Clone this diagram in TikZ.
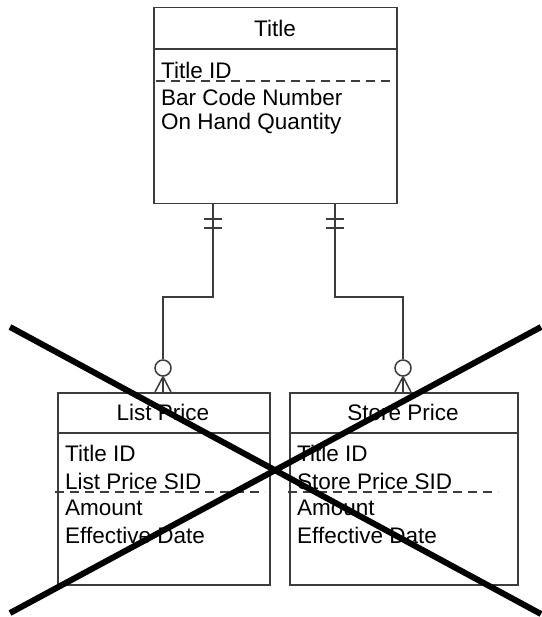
\documentclass[tikz,border=0pt]{standalone}
\usepackage{fontspec}
\setmainfont{Liberation Sans}
\begin{document}
\begin{tikzpicture}[x=1pt,y=-1pt,
  ent/.style={draw=boxgray, line width=1.5pt, anchor=north west, inner sep=0pt},
  sep/.style={draw=boxgray, line width=1.5pt},
  keysep/.style={draw=boxgray, line width=1.2pt, dash pattern=on 9pt off 6pt},
  attr/.style={anchor=west, inner sep=0pt, font=\fontsize{22.5}{26}\selectfont},
  hdr/.style={inner sep=0pt, font=\fontsize{22.5}{26}\selectfont},
  rel/.style={draw=boxgray, line width=1.5pt},
  cross/.style={draw=black, line width=6pt}]
\definecolor{boxgray}{HTML}{3C3C3C}
\useasboundingbox (0,0) rectangle (541,617);
% Title entity
\node[ent, minimum width=243, minimum height=196] (title) at (153,7) {};
\draw[sep] (153,49) -- (396,49);
\node[hdr] (tTitle) at (275,28) {Title};
\node[attr] (tA1) at (161,70) {Title ID};
\draw[keysep] (156,81) -- (396,81);
\node[attr] (tA2) at (161,97) {Bar Code Number};
\node[attr] (tA3) at (161,124) {On Hand Quantity};
% List Price entity
\node[ent, minimum width=212, minimum height=192] (list) at (57,392) {};
\draw[sep] (57,433) -- (269,433);
\node[hdr] (lTitle) at (163,412) {List Price};
\node[attr] (lA1) at (65,453) {Title ID};
\node[attr] (lA2) at (65,481) {List Price SID};
\draw[keysep] (55,492) -- (265,492);
\node[attr] (lA3) at (65,508) {Amount};
\node[attr] (lA4) at (65,535) {Effective Date};
% Store Price entity
\node[ent, minimum width=228, minimum height=192] (store) at (289,392) {};
\draw[sep] (289,433) -- (517,433);
\node[hdr] (sTitle) at (403,412) {Store Price};
\node[attr] (sA1) at (297,453) {Title ID};
\node[attr] (sA2) at (297,481) {Store Price SID};
\draw[keysep] (288,492) -- (498,492);
\node[attr] (sA3) at (297,508) {Amount};
\node[attr] (sA4) at (297,535) {Effective Date};
% relationship Title -> List Price
\coordinate (r1s) at (213,203);
\coordinate (r1e) at (163,392);
\node[circle, draw=boxgray, line width=1.5pt, minimum size=16, inner sep=0pt] (c1) at (163,368) {};
\draw[rel] (r1s) -- ++(0,94) -| (c1.north);
\draw[rel] (204,219) -- (222,219) (204,228) -- (222,228);
\draw[rel] (c1.south) -- (r1e);
\draw[rel] (c1.south) -- (155,392) (c1.south) -- (171,392);
% relationship Title -> Store Price
\coordinate (r2s) at (335,203);
\coordinate (r2e) at (403,392);
\node[circle, draw=boxgray, line width=1.5pt, minimum size=16, inner sep=0pt] (c2) at (403,368) {};
\draw[rel] (r2s) -- ++(0,94) -| (c2.north);
\draw[rel] (326,219) -- (344,219) (326,228) -- (344,228);
\draw[rel] (c2.south) -- (r2e);
\draw[rel] (c2.south) -- (395,392) (c2.south) -- (411,392);
% big cross
\coordinate (x1a) at (10,327);
\coordinate (x1b) at (541,614);
\coordinate (x2a) at (541,327);
\coordinate (x2b) at (10,613);
\draw[cross] (x1a) -- (x1b);
\draw[cross] (x2a) -- (x2b);
\end{tikzpicture}
\end{document}
